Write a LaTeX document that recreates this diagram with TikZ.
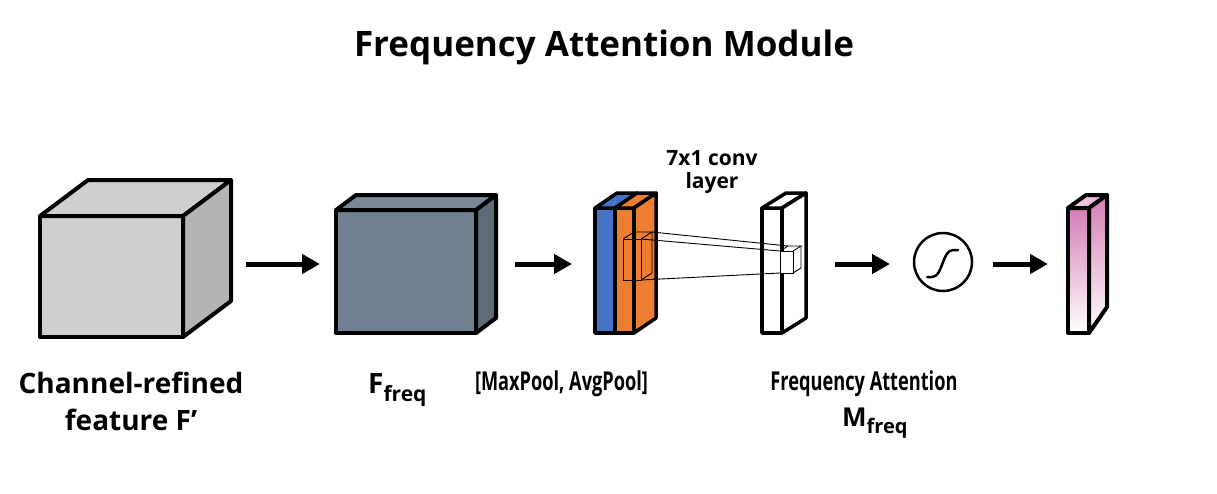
\documentclass[tikz,border=0pt]{standalone}
\usepackage{fontspec}
\setmainfont{Open Sans}
\newfontfamily\narrowfont{Open Sans}[FakeStretch=0.7]
\usetikzlibrary{positioning,arrows.meta}

\definecolor{featfront}{HTML}{CFCFCF}
\definecolor{featside}{HTML}{B3B5B4}
\definecolor{freqfront}{HTML}{708090}
\definecolor{freqside}{HTML}{5F6B78}
\definecolor{freqtop}{HTML}{7A8898}
\definecolor{maxblue}{HTML}{4472C4}
\definecolor{avgorange}{HTML}{ED7D31}
\definecolor{attpink}{HTML}{D47DB5}
\definecolor{attlight}{HTML}{F3DCEC}

\newcommand{\subtxt}[2]{\raisebox{-0.3em}{\fontsize{#1}{#1}\selectfont #2}}

\begin{document}
\begin{tikzpicture}[x=1pt, y=-1pt,
  face/.style={draw, line width=4pt, line join=round, outer sep=0pt, inner sep=0pt},
  slab/.style={draw, line width=3.5pt, line join=round, outer sep=0pt, inner sep=0pt},
  wire/.style={draw, line width=0.9pt},
  flow/.style={line width=5pt, -{Triangle[length=18pt, width=19pt]}},
  lab/.style={inner sep=0pt, font=\fontsize{28}{37}\selectfont\bfseries}]
  \useasboundingbox (0,0) rectangle (1217,493);

  \node[inner sep=0pt, anchor=base, font=\fontsize{35}{40}\selectfont\bfseries] (title) at (604,56) {Frequency Attention Module};

  % channel-refined feature
  \node[face, fill=featfront, minimum width=143pt, minimum height=121pt] (feat) at (111.5,276.5) {};
  \draw[face, fill=featfront] (feat.north west) -- ++(48,-36) -- ++(143,0) -- (feat.north east) -- cycle;
  \draw[face, fill=featside] (feat.north east) -- ++(48,-36) -- ++(0,121) -- (feat.south east) -- cycle;
  \node[lab, align=center, anchor=north] (featlab) at (131,372) {Channel-refined\\feature F’};

  % F freq
  \node[face, fill=freqfront, minimum width=140pt, minimum height=123pt] (ffreq) at (406,271.5) {};
  \draw[face, fill=freqtop] (ffreq.north west) -- ++(20,-15) -- ++(140,0) -- (ffreq.north east) -- cycle;
  \draw[face, fill=freqside] (ffreq.north east) -- ++(20,-15) -- ++(0,123) -- (ffreq.south east) -- cycle;
  \node[lab, anchor=base west] (ffreqlab) at (368,393) {F\subtxt{21}{freq}};

  % pooled maps
  \node[slab, fill=maxblue, minimum width=20pt, minimum height=125pt] (maxp) at (605,270.5) {};
  \node[slab, fill=avgorange, minimum width=19pt, minimum height=125pt] (avgp) at (624.5,270.5) {};
  \draw[slab, fill=maxblue] (maxp.north west) -- ++(22,-15) -- ++(20,0) -- (maxp.north east) -- cycle;
  \draw[slab, fill=avgorange] (avgp.north west) -- ++(22,-15) -- ++(19,0) -- (avgp.north east) -- cycle;
  \draw[slab, fill=avgorange] (avgp.north east) -- ++(22,-15) -- ++(0,125) -- (avgp.south east) -- cycle;
  \node[inner sep=0pt, anchor=base, font=\fontsize{26}{30}\selectfont\narrowfont\bfseries] (poollab) at (561.5,390) {[MaxPool, AvgPool]};

  % conv layer
  \node[slab, fill=white, minimum width=20pt, minimum height=125pt] (conv) at (772,270.5) {};
  \draw[slab, fill=white] (conv.north west) -- ++(24,-15) -- ++(20,0) -- (conv.north east) -- cycle;
  \draw[slab, fill=white] (conv.north east) -- ++(24,-15) -- ++(0,125) -- (conv.south east) -- cycle;
  \node[inner sep=0pt, align=center, anchor=north, font=\fontsize{21}{23}\selectfont\bfseries] (convlab) at (712,150) {7x1 conv\\layer};

  % kernel window
  \node[wire, minimum width=18pt, minimum height=41pt, outer sep=0pt, inner sep=0pt] (kin) at (632,259.5) {};
  \draw[wire] (kin.north west) -- ++(11,-7) -- ++(18,0) -- (kin.north east);
  \draw[wire] (kin.north east) ++(11,-7) -- ++(0,41) -- (kin.south east);
  \node[wire, fill=white, minimum width=13pt, minimum height=22pt, outer sep=0pt, inner sep=0pt] (kout) at (786.5,262) {};
  \draw[wire] (kout.north west) -- ++(8,-5) -- ++(13,0) -- (kout.north east);
  \draw[wire] (kout.north east) ++(8,-5) -- ++(0,22) -- (kout.south east);
  \draw[wire] ([shift={(11,-7)}]kin.north east) -- ([shift={(8,-5)}]kout.north west);
  \draw[wire] (kin.north east) -- (kout.north west);
  \draw[wire] (kin.south east) -- (kout.south west);

  % sigmoid
  \node[draw, circle, line width=2.5pt, minimum size=58pt, outer sep=0pt] (sig) at (943,262) {};
  \draw[line width=2.5pt, line cap=round] (927,277) -- (932,277) .. controls (943,277) and (942,250) .. (953,250) -- (958,250);

  % attention map
  \node[slab, line width=4pt, top color=attpink, bottom color=white, minimum width=21pt, minimum height=125pt] (mfreq) at (1078.5,270.5) {};
  \draw[slab, line width=4pt, left color=attlight, right color=attpink!70] (mfreq.north west) -- ++(18,-13) -- ++(21,0) -- (mfreq.north east) -- cycle;
  \draw[slab, line width=4pt, top color=attpink, bottom color=white] (mfreq.north east) -- ++(18,-13) -- ++(0,112) -- (mfreq.south east) -- cycle;
  \node[inner sep=0pt, anchor=base, font=\fontsize{26}{30}\selectfont\narrowfont\bfseries] (attlab) at (864,390) {Frequency Attention};
  \node[inner sep=0pt, anchor=base west, font=\fontsize{26}{30}\selectfont\bfseries] (mlab) at (842,426) {M\subtxt{20}{freq}};

  % arrows
  \coordinate (a1) at (246,264); \coordinate (b1) at (320,264);
  \coordinate (a2) at (515,264); \coordinate (b2) at (572,264);
  \coordinate (a3) at (835,264); \coordinate (b3) at (890,264);
  \coordinate (a4) at (993,264); \coordinate (b4) at (1048,264);
  \draw[flow] (a1) -- (b1);
  \draw[flow] (a2) -- (b2);
  \draw[flow] (a3) -- (b3);
  \draw[flow] (a4) -- (b4);
\end{tikzpicture}
\end{document}
